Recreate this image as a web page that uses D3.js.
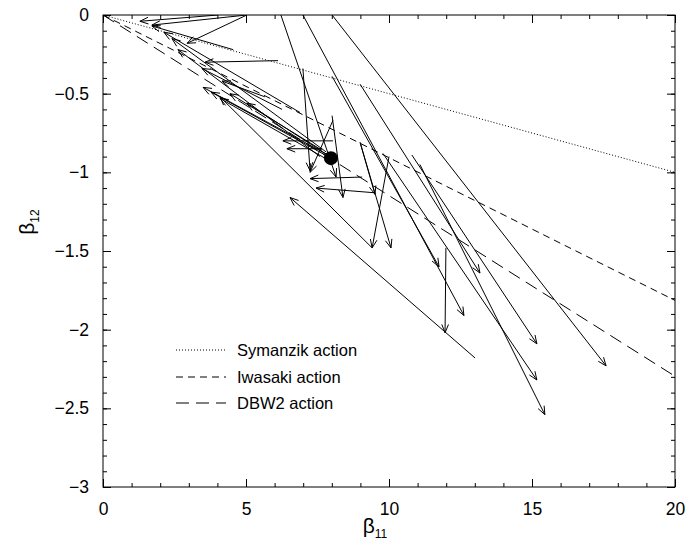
<!DOCTYPE html>
<html><head><meta charset="utf-8">
<script src="https://cdn.jsdelivr.net/npm/d3@7"></script>
<style>
body{margin:0;background:#fff;}
svg{display:block;font-family:"Liberation Sans",Arial,Helvetica,sans-serif;}
</style></head>
<body><svg id="chart" width="686" height="544"></svg>
<script>
// ---- data ----
const xDomain = [0, 20];
const yDomain = [-3, 0];
const xMajorTicks = [0, 5, 10, 15, 20];
const yMajorTicks = [0, -0.5, -1, -1.5, -2, -2.5, -3];

// reference lines: beta12 = ratio * beta11
const actionNames = ["Symanzik action", "Iwasaki action", "DBW2 action"];
const actionRatios = [-0.05, -0.0907, -0.1148];
const actionDash = ["1,2", "7,5", "13,7"];

// RG flow arrows [x0, y0, x1, y1]  (beta11, beta12)
const arrows = [
  [6.22, 0.00, 8.15, -1.03],
  [6.99, 0.00, 12.62, -1.91],
  [8.01, 0.00, 17.59, -2.23],
  [6.99, -0.34, 7.24, -0.99],
  [8.01, -0.39, 11.75, -1.60],
  [8.99, -0.44, 13.18, -1.64],
  [9.79, -0.88, 15.17, -2.32],
  [10.00, -0.90, 9.41, -1.48],
  [8.99, -0.81, 10.07, -1.48],
  [10.80, -0.89, 15.17, -2.09],
  [11.08, -0.95, 15.45, -2.54],
  [11.99, -1.48, 11.96, -2.02],
  [13.01, -2.18, 6.54, -1.16],
  [9.41, -1.48, 4.09, -0.52],
  [8.04, -0.80, 6.29, -0.80],
  [8.04, -0.67, 7.24, -1.00],
  [8.01, -0.64, 8.39, -1.16],
  [9.06, -1.03, 7.24, -1.04],
  [9.51, -1.13, 7.45, -1.10],
  [8.99, -0.81, 9.51, -1.14],
  [7.97, -0.90, 3.50, -0.46],
  [7.87, -0.90, 3.78, -0.49],
  [7.76, -0.91, 4.09, -0.53],
  [7.66, -0.86, 4.44, -0.50],
  [8.11, -0.92, 5.03, -0.56],
  [6.89, -0.62, 2.13, -0.11],
  [7.80, -0.87, 2.41, -0.15],
  [7.59, -0.90, 2.62, -0.22],
  [6.26, -0.60, 3.46, -0.34],
  [6.12, -0.29, 3.57, -0.30],
  [5.66, -0.52, 4.16, -0.42],
  [5.03, 0.00, 2.94, -0.18],
  [5.03, 0.00, 1.71, -0.064],
  [4.02, 0.00, 1.29, -0.04],
  [4.55, -0.22, 1.71, -0.07],
  [7.66, -0.85, 6.43, -0.85]
];
const fixedPoint = [7.97, -0.91];

// ---- drawing ----
const svg = d3.select("#chart");
const x = d3.scaleLinear().domain(xDomain).range([103, 675]);
const y = d3.scaleLinear().domain(yDomain).range([487, 15]);
const fmt = d => d3.format("~g")(d);

const xMinor = d3.range(0, 21, 1);
const yMinor = d3.range(0, 31, 1).map(i => -i / 10);

function styleAxis(g){ g.select(".domain").remove(); g.selectAll("line").attr("stroke","#000"); g.selectAll("text").attr("fill","#000"); }

// bottom
svg.append("g").attr("transform","translate(0,487)")
  .call(d3.axisBottom(x).tickValues(xMinor).tickSize(-4).tickFormat("")).call(styleAxis);
svg.append("g").attr("transform","translate(0,487)")
  .call(d3.axisBottom(x).tickValues(xMajorTicks).tickSize(-8).tickPadding(16).tickFormat(fmt))
  .call(styleAxis).selectAll("text").attr("font-size",17.5);
// top
svg.append("g").attr("transform","translate(0,15)")
  .call(d3.axisTop(x).tickValues(xMinor).tickSize(-4).tickFormat("")).call(styleAxis);
svg.append("g").attr("transform","translate(0,15)")
  .call(d3.axisTop(x).tickValues(xMajorTicks).tickSize(-8).tickFormat("")).call(styleAxis);
// left
svg.append("g").attr("transform","translate(103,0)")
  .call(d3.axisLeft(y).tickValues(yMinor).tickSize(-4).tickFormat("")).call(styleAxis);
svg.append("g").attr("transform","translate(103,0)")
  .call(d3.axisLeft(y).tickValues(yMajorTicks).tickSize(-8).tickPadding(14).tickFormat(fmt))
  .call(styleAxis).selectAll("text").attr("font-size",17.5);
// right
svg.append("g").attr("transform","translate(675,0)")
  .call(d3.axisRight(y).tickValues(yMinor).tickSize(-4).tickFormat("")).call(styleAxis);
svg.append("g").attr("transform","translate(675,0)")
  .call(d3.axisRight(y).tickValues(yMajorTicks).tickSize(-8).tickFormat("")).call(styleAxis);

// frame
svg.append("rect").attr("x",x(0)).attr("y",y(0)).attr("width",x(20)-x(0)).attr("height",y(-3)-y(0))
  .attr("fill","none").attr("stroke","#000").attr("stroke-width",1);

// clip
svg.append("clipPath").attr("id","clip").append("rect")
  .attr("x",x(0)).attr("y",y(0)).attr("width",x(20)-x(0)).attr("height",y(-3)-y(0));
const plot = svg.append("g").attr("clip-path","url(#clip)");

// action lines
actionRatios.forEach((r,i)=>{
  plot.append("line").attr("x1",x(0)).attr("y1",y(0)).attr("x2",x(20)).attr("y2",y(20*r))
    .attr("stroke","#000").attr("stroke-width",1).attr("stroke-dasharray",actionDash[i]);
});

// arrows
const headLen = 9, headAng = 0.38;
arrows.forEach(a=>{
  const X0=x(a[0]),Y0=y(a[1]),X1=x(a[2]),Y1=y(a[3]);
  const ang=Math.atan2(Y1-Y0,X1-X0);
  const p = d3.path();
  p.moveTo(X0,Y0); p.lineTo(X1,Y1);
  p.moveTo(X1-headLen*Math.cos(ang-headAng), Y1-headLen*Math.sin(ang-headAng));
  p.lineTo(X1,Y1);
  p.lineTo(X1-headLen*Math.cos(ang+headAng), Y1-headLen*Math.sin(ang+headAng));
  plot.append("path").attr("d",p.toString()).attr("fill","none").attr("stroke","#000").attr("stroke-width",1);
});

// fixed point
plot.append("circle").attr("cx",x(fixedPoint[0])).attr("cy",y(fixedPoint[1])).attr("r",7).attr("fill","#000");

// legend
const legY = [350, 377, 403];
actionNames.forEach((n,i)=>{
  svg.append("line").attr("x1",176).attr("x2",226).attr("y1",legY[i]).attr("y2",legY[i])
    .attr("stroke","#000").attr("stroke-dasharray",actionDash[i]);
  svg.append("text").attr("x",237).attr("y",legY[i]+6).attr("font-size",16.5).text(n);
});

// axis titles
const xt = svg.append("text").attr("x",375).attr("y",533).attr("text-anchor","middle").attr("font-size",21);
xt.append("tspan").text("β");
xt.append("tspan").attr("font-size",12).attr("dy",5).text("11");
const yt = svg.append("text").attr("transform","translate(34,222) rotate(-90)").attr("text-anchor","middle").attr("font-size",21);
yt.append("tspan").text("β");
yt.append("tspan").attr("font-size",12).attr("dy",5).text("12");
</script></body></html>
